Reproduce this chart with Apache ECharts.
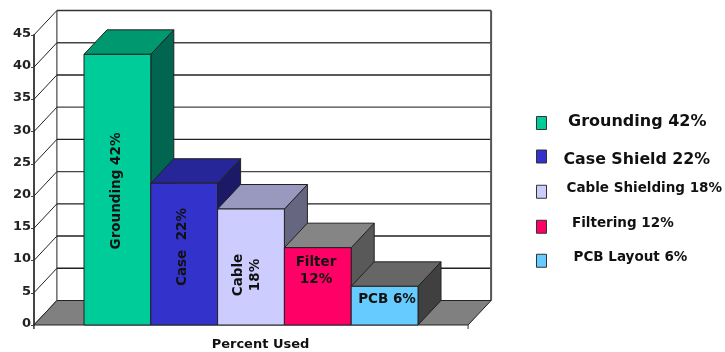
<!DOCTYPE html>
<html>
<head>
<meta charset="utf-8">
<style>html,body{margin:0;padding:0;background:#fff}#chart{width:725px;height:352px}</style>
<script src="https://cdn.jsdelivr.net/npm/echarts@6/dist/echarts.min.js"></script>
</head>
<body>
<div id="chart"></div>
<script>
// Shielding techniques by share of use
const categories = ['Grounding', 'Case', 'Cable', 'Filter', 'PCB'];
const values = [42, 22, 18, 12, 6];
const legendNames = ['Grounding 42%', 'Case Shield 22%', 'Cable Shielding 18%', 'Filtering 12%', 'PCB Layout 6%'];
const barLabels = ['Grounding 42%', 'Case  22%', 'Cable\n18%', 'Filter\n12%', 'PCB 6%'];
const frontColors = ['#00CC99', '#3333CC', '#CCCCFF', '#FF0066', '#66CCFF'];
const topColors = ['#00996F', '#262699', '#9999BF', '#858585', '#666666'];
const sideColors = ['#006650', '#1A1A66', '#666680', '#595959', '#404040'];
const yTicks = [0, 5, 10, 15, 20, 25, 30, 35, 40, 45];

const FONT = '"DejaVu Sans", Verdana, sans-serif';
const DEPTH_X = 23, DEPTH_Y = 24.5;
const EDGE = '#222';

function poly(points, fill, stroke, lineWidth) {
  return {
    type: 'polygon',
    shape: { points },
    style: { fill, stroke: stroke || EDGE, lineWidth: lineWidth || 1 }
  };
}
function line(x1, y1, x2, y2, stroke, lineWidth) {
  return {
    type: 'line',
    shape: { x1, y1, x2, y2 },
    style: { stroke, lineWidth, fill: null }
  };
}

// Back wall, side wall and floor, placed from the axes' own scales
function renderRoom(params, api) {
  const band = api.size([1, 0])[0];
  const left = api.coord([0, 0])[0] - band * 1.25;
  const right = api.coord([categories.length - 1, 0])[0] + band * 1.25;
  const base = api.coord([0, 0])[1];
  const top = api.coord([0, 45])[1];
  const children = [];
  yTicks.forEach(function (t) {
    const y = api.coord([0, t])[1];
    if (t > 0 && t < 45) {
      children.push(line(left + DEPTH_X, y - DEPTH_Y, right + DEPTH_X, y - DEPTH_Y, t % 10 === 0 && t > 10 ? '#444' : '#222', 1.4));
    }
    children.push(line(left, y, left + DEPTH_X, y - DEPTH_Y, '#222', 1));
  });
  children.push(line(left + DEPTH_X, top - DEPTH_Y, right + DEPTH_X, top - DEPTH_Y, '#333', 1.5));
  children.push(line(left + DEPTH_X, top - DEPTH_Y, left + DEPTH_X, base - DEPTH_Y, '#222', 1));
  children.push(line(right + DEPTH_X, top - DEPTH_Y, right + DEPTH_X, base - DEPTH_Y, '#555', 2));
  children.push(poly([
    [left, base], [left + DEPTH_X, base - DEPTH_Y],
    [right + DEPTH_X, base - DEPTH_Y], [right, base]
  ], '#808080'));
  children.push(line(left, base, left, base + 4, '#333', 1.5));
  children.push(line(right, base, right, base + 4, '#333', 1));
  return { type: 'group', silent: true, children };
}

// One extruded block: front, top and side faces plus its caption
const captionAnchors = [[116, 191], [182, 247], [247, 275], [316, 270.5], [387, 299]];
function renderBlock(i) {
  return function (params, api) {
    const band = api.size([1, 0])[0];
    const cx = api.coord([i, 0])[0];
    const x0 = cx - band / 2;
    const x1 = cx + band / 2;
    const yBase = api.coord([i, 0])[1];
    const yTop = api.coord([i, api.value(1)])[1];
    const children = [
      poly([[x1, yBase], [x1 + DEPTH_X, yBase - DEPTH_Y], [x1 + DEPTH_X, yTop - DEPTH_Y], [x1, yTop]], sideColors[i]),
      poly([[x0, yTop], [x0 + DEPTH_X, yTop - DEPTH_Y], [x1 + DEPTH_X, yTop - DEPTH_Y], [x1, yTop]], topColors[i]),
      poly([[x0, yBase], [x0, yTop], [x1, yTop], [x1, yBase]], frontColors[i])
    ];
    children.push({
      type: 'text',
      x: captionAnchors[i][0],
      y: captionAnchors[i][1],
      rotation: i < 3 ? Math.PI / 2 : 0,
      style: {
        text: barLabels[i],
        font: 'bold 13.5px ' + FONT,
        fill: '#111',
        align: 'center',
        verticalAlign: 'middle',
        lineHeight: 17
      }
    });
    return { type: 'group', children };
  };
}

// Legend rows: icon centre, font size, gap to the text, and how far the text sits above the icon
const legendRows = [
  { iconY: 125, size: 16, gap: 21.5, lift: 1 },
  { iconY: 159, size: 15.8, gap: 17, lift: -3 },
  { iconY: 193.5, size: 13.5, gap: 20, lift: 3 },
  { iconY: 228.5, size: 13.5, gap: 25.5, lift: 3 },
  { iconY: 262.5, size: 13.5, gap: 27, lift: 3 }
];

const option = {
  animation: false,
  backgroundColor: '#fff',
  textStyle: { fontFamily: FONT },
  grid: { left: 84, width: 334, top: 35, height: 290, outerBoundsMode: 'none' },
  xAxis: {
    type: 'category',
    data: categories,
    axisLine: { show: false },
    axisTick: { show: false },
    axisLabel: { show: false },
    name: 'Percent Used',
    nameLocation: 'middle',
    nameGap: 13,
    nameTextStyle: { fontFamily: FONT, fontWeight: 'bold', fontSize: 13, color: '#111', padding: [0, 0, 0, 19] }
  },
  yAxis: {
    type: 'value',
    min: 0,
    max: 45,
    interval: 5,
    offset: 50,
    splitLine: { show: false },
    axisLine: { show: true, lineStyle: { color: '#444', width: 2 } },
    axisTick: { show: true, length: 3, lineStyle: { color: '#444', width: 1 } },
    axisLabel: { fontFamily: FONT, fontWeight: 'bold', fontSize: 13, color: '#222', margin: 3, verticalAlign: 'bottom', lineHeight: 3 }
  },
  legend: legendNames.map(function (name, i) {
    const r = legendRows[i];
    const lineH = r.size + 4;
    const spacer = Math.abs(r.lift) * 2;
    return {
      data: [name],
      left: 536,
      top: r.iconY - (lineH + spacer) / 2,
      padding: 0,
      icon: 'rect',
      itemWidth: 10,
      itemHeight: 13,
      selectedMode: false,
      itemStyle: { borderColor: '#333', borderWidth: 1 },
      formatter: function (n) {
        return r.lift >= 0 ? '{a|' + n + '}\n{s| }' : '{s| }\n{a|' + n + '}';
      },
      textStyle: {
        padding: [0, 0, 0, r.gap - 5],
        rich: {
          a: { fontFamily: FONT, fontWeight: 'bold', fontSize: r.size, color: '#111', lineHeight: lineH },
          s: { fontSize: 1, lineHeight: spacer }
        }
      }
    };
  }),
  series: [
    { type: 'custom', name: 'room', renderItem: renderRoom, data: [[0, 0]], silent: true, z: 1 }
  ].concat(legendNames.map(function (name, i) {
    return {
      type: 'custom',
      name,
      renderItem: renderBlock(i),
      data: [[i, values[i]]],
      itemStyle: { color: frontColors[i] },
      z: 2 + i
    };
  }))
};

const chart = echarts.init(document.getElementById('chart'), null, { renderer: 'canvas' });
chart.setOption(option);
</script>
</body>
</html>
